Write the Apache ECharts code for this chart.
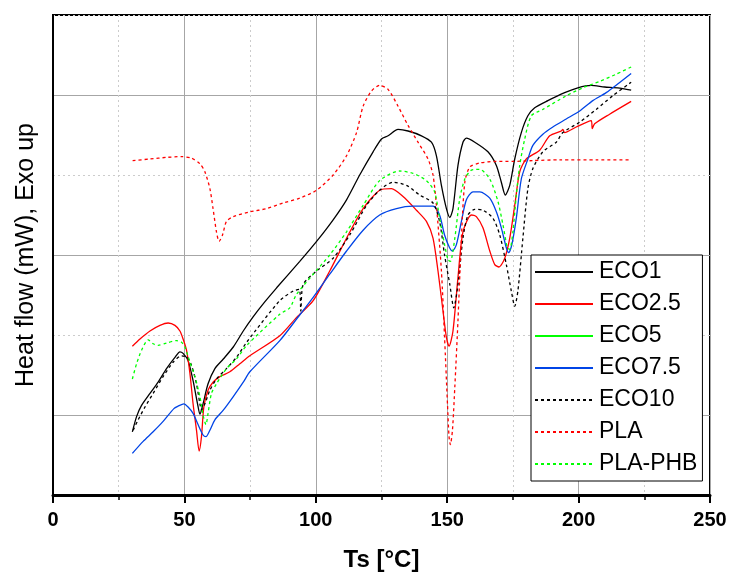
<!DOCTYPE html>
<html>
<head>
<meta charset="utf-8">
<script src="https://cdn.jsdelivr.net/npm/echarts@6/dist/echarts.min.js"></script>
<style>
html,body{margin:0;padding:0;background:#fff;}
#chart{width:730px;height:577px;}
</style>
</head>
<body>
<div id="chart"></div>
<script>
// ---- data (x: Ts in °C, y: heat flow, arbitrary units, exo up) ----
const seriesNames = ['ECO1', 'ECO2.5', 'ECO5', 'ECO7.5', 'ECO10', 'PLA', 'PLA-PHB'];
const xTicks = [0, 50, 100, 150, 200, 250];

const eco1 = [[30.2,0.79],[31.8,0.98],[33.7,1.12],[36.9,1.27],[40.0,1.41],[43.2,1.58],[46.4,1.72],[48.3,1.79],[49.5,1.77],[51.4,1.68],[53.3,1.43],[55.0,1.14],[55.9,1.01],[57.1,1.14],[59.0,1.39],[61.6,1.58],[64.8,1.70],[68.6,1.85],[72.4,2.05],[76.0,2.22],[80.5,2.41],[85.1,2.59],[93.9,2.92],[100.3,3.17],[106.6,3.44],[111.7,3.69],[116.7,4.00],[121.8,4.29],[125.0,4.45],[127.5,4.49],[131.3,4.57],[135.1,4.55],[140.2,4.49],[144.0,4.41],[145.9,4.24],[147.8,3.87],[149.7,3.58],[151.0,3.47],[152.2,3.58],[154.1,4.12],[156.0,4.41],[157.3,4.46],[160.5,4.41],[165.5,4.29],[168.7,4.12],[170.6,3.91],[172.1,3.75],[173.8,3.87],[175.7,4.20],[178.2,4.53],[180.7,4.74],[183.3,4.84],[188.3,4.93],[194.7,5.03],[199.7,5.09],[204.8,5.12],[209.9,5.10],[214.9,5.09],[220.0,5.06]];

const eco25 = [[30.2,1.86],[33.1,1.95],[36.9,2.05],[40.7,2.12],[43.8,2.15],[46.4,2.12],[48.3,2.05],[49.5,1.95],[50.8,1.81],[52.1,1.52],[53.3,1.14],[54.6,0.81],[55.6,0.55],[56.5,0.73],[57.4,1.10],[59.0,1.31],[60.9,1.41],[63.5,1.48],[67.3,1.54],[71.1,1.64],[74.9,1.74],[86.3,1.99],[92.7,2.22],[99.0,2.43],[105.3,2.80],[111.7,3.21],[118.0,3.58],[124.3,3.81],[128.8,3.83],[133.2,3.73],[138.3,3.56],[142.1,3.42],[144.6,3.21],[146.5,2.80],[148.4,2.30],[149.7,1.97],[150.7,1.86],[152.2,2.05],[154.1,2.72],[156.0,3.29],[159.2,3.50],[161.1,3.48],[163.6,3.34],[166.2,3.05],[168.1,2.88],[169.7,2.85],[171.9,2.96],[173.8,3.21],[175.7,3.62],[177.6,4.04],[180.1,4.20],[185.2,4.31],[189.0,4.49],[193.4,4.55],[194.0,4.57],[194.7,4.53],[199.1,4.60],[204.8,4.68],[205.2,4.58],[206.1,4.64],[211.8,4.76],[220.0,4.92]];

const eco5 = [];

const eco75 = [[30.2,0.52],[34.3,0.67],[38.1,0.79],[41.9,0.92],[46.0,1.08],[47.6,1.11],[49.8,1.14],[51.4,1.10],[53.3,1.02],[55.2,0.88],[57.1,0.75],[58.2,0.73],[59.7,0.81],[61.6,0.94],[64.8,1.06],[68.6,1.23],[72.4,1.41],[74.9,1.54],[86.3,1.93],[92.7,2.20],[99.0,2.47],[105.3,2.76],[111.7,3.05],[118.0,3.31],[124.3,3.50],[130.7,3.58],[137.0,3.61],[144.6,3.61],[147.1,3.50],[149.0,3.25],[150.9,3.09],[152.0,3.05],[153.5,3.13],[155.4,3.42],[157.3,3.69],[159.8,3.79],[162.4,3.79],[166.2,3.71],[168.7,3.54],[170.6,3.34],[172.5,3.09],[173.4,3.03],[174.6,3.13],[176.3,3.46],[178.2,3.95],[180.7,4.20],[182.6,4.37],[186.4,4.51],[190.2,4.60],[195.3,4.70],[200.4,4.80],[205.4,4.93],[210.5,5.03],[220.0,5.27]];

const eco10 = [[30.5,0.81],[32.4,0.94],[35.0,1.10],[38.1,1.27],[41.9,1.48],[45.7,1.66],[48.9,1.74],[51.1,1.72],[52.7,1.62],[54.6,1.39],[55.9,1.14],[56.5,1.06],[57.8,1.14],[59.7,1.31],[62.2,1.45],[66.0,1.58],[69.8,1.72],[73.7,1.91],[86.3,2.43],[91.4,2.55],[93.7,2.57],[94.3,2.30],[95.2,2.63],[100.3,2.80],[106.6,2.96],[112.9,3.25],[119.3,3.62],[124.3,3.81],[129.4,3.91],[134.5,3.87],[139.5,3.75],[144.6,3.65],[147.1,3.42],[149.0,3.00],[151.0,2.63],[152.5,2.34],[154.1,2.63],[156.0,3.21],[157.9,3.50],[160.5,3.57],[163.6,3.56],[167.4,3.46],[170.0,3.25],[172.5,2.88],[174.4,2.55],[175.7,2.36],[176.9,2.55],[178.8,3.21],[180.7,3.83],[182.6,4.08],[186.4,4.29],[191.5,4.41],[194.0,4.53],[200.4,4.66],[206.7,4.82],[213.0,4.99],[220.0,5.16]];

const pla = [[30.3,4.18],[36.9,4.20],[43.2,4.22],[48.9,4.23],[52.7,4.21],[55.9,4.14],[57.8,4.04],[59.7,3.83],[60.9,3.58],[62.2,3.29],[63.2,3.17],[64.5,3.25],[66.0,3.42],[68.6,3.48],[74.9,3.54],[81.3,3.58],[87.6,3.65],[93.9,3.71],[100.3,3.81],[106.6,4.00],[111.7,4.24],[115.5,4.53],[118.0,4.86],[121.2,5.05],[124.3,5.12],[127.5,5.07],[131.3,4.86],[135.1,4.62],[138.9,4.41],[142.7,4.20],[144.6,4.00],[145.9,3.62],[147.8,2.80],[149.0,1.97],[150.1,1.14],[150.7,0.73],[151.2,0.63],[152.0,0.81],[152.9,1.35],[154.1,2.18],[155.4,3.21],[156.7,3.91],[158.6,4.10],[162.4,4.15],[168.7,4.17],[175.0,4.17],[182.6,4.18],[192.8,4.19],[207.3,4.19],[220.0,4.19]];

const plaPhb = [[30.2,1.45],[31.8,1.64],[33.7,1.81],[36.2,1.94],[38.1,1.89],[40.0,1.87],[43.2,1.90],[47.0,1.93],[48.9,1.91],[50.2,1.85],[52.1,1.66],[54.0,1.48],[55.9,1.23],[57.1,1.00],[58.2,0.88],[59.0,1.02],[60.3,1.27],[62.2,1.39],[66.0,1.58],[69.8,1.70],[73.7,1.87],[86.3,2.26],[90.1,2.34],[92.7,2.51],[99.0,2.76],[105.3,3.00],[111.7,3.29],[118.0,3.62],[124.3,3.93],[131.9,4.05],[137.0,4.02],[142.1,3.93],[145.2,3.79],[147.1,3.46],[149.0,3.13],[150.3,2.94],[151.2,2.92],[152.9,3.21],[154.8,3.71],[156.7,3.95],[159.2,4.06],[162.4,4.07],[166.2,3.95],[169.3,3.67],[171.2,3.38],[172.9,3.09],[173.8,3.07],[175.0,3.29],[176.3,3.75],[177.6,4.12],[179.5,4.45],[182.0,4.74],[186.4,4.82],[195.3,4.99],[201.6,5.09],[208.0,5.17],[214.3,5.26],[220.0,5.35]];

const seriesData = [eco1, eco25, eco5, eco75, eco10, pla, plaPhb];
const seriesColors = ['#000000', '#ff0000', '#00ff00', '#0044e6', '#000000', '#ff0000', '#00ff00'];
const seriesDashed = [false, false, false, false, true, true, true];

const FONT = 'Liberation Sans, Arial, sans-serif';

const chart = echarts.init(document.getElementById('chart'), null, {renderer: 'canvas'});

const series = seriesNames.map((name, i) => ({
  name: name,
  type: 'line',
  data: seriesData[i],
  symbol: 'none',
  showSymbol: false,
  smooth: 0.25,
  color: seriesColors[i],
  lineStyle: {
    color: seriesColors[i],
    width: 1.3,
    type: seriesDashed[i] ? [3, 3] : 'solid'
  },
  xAxisIndex: 0,
  yAxisIndex: 0,
  z: 3
}));

chart.setOption({
  animation: false,
  backgroundColor: '#fff',
  grid: {
    left: 53, top: 15, width: 657, height: 484,
    show: true, borderColor: '#000', borderWidth: 2, backgroundColor: 'transparent'
  },
  xAxis: [{
    type: 'value',
    min: xTicks[0], max: xTicks[xTicks.length - 1], interval: 50,
    name: 'Ts [°C]',
    nameLocation: 'middle',
    nameGap: 53,
    nameTextStyle: {fontFamily: FONT, fontSize: 24, fontWeight: 'bold', color: '#000'},
    axisLine: {show: true, onZero: false, lineStyle: {color: '#000', width: 3}},
    axisTick: {show: true, inside: false, length: 8, lineStyle: {color: '#000', width: 2}},
    minorTick: {show: true, splitNumber: 2, length: 5, lineStyle: {color: '#000', width: 1.5}},
    axisLabel: {fontFamily: FONT, fontSize: 20, fontWeight: 'bold', color: '#000', margin: 15},
    splitLine: {show: true, lineStyle: {color: '#a6a6a6', width: 1, type: 'solid'}},
    minorSplitLine: {show: true, lineStyle: {color: '#cccccc', width: 1, type: [2, 3]}}
  }],
  yAxis: [{
    type: 'value',
    min: 0, max: 6, interval: 1,
    name: 'Heat flow (mW), Exo up',
    nameLocation: 'middle',
    nameGap: 14,
    nameTextStyle: {fontFamily: FONT, fontSize: 25, color: '#000'},
    axisLine: {show: true, onZero: false, lineStyle: {color: '#000', width: 2}},
    axisTick: {show: false},
    axisLabel: {show: false},
    splitLine: {show: true, lineStyle: {color: ['rgba(0,0,0,0)', '#a6a6a6'], width: 1, type: 'solid'}}
  }, {
    type: 'value',
    position: 'left',
    min: 0, max: 6, interval: 1,
    axisLine: {show: false},
    axisTick: {show: false},
    axisLabel: {show: false},
    splitLine: {show: true, lineStyle: {color: ['#cccccc', 'rgba(0,0,0,0)'], width: 1, type: [2, 3]}}
  }],
  legend: {
    show: true,
    orient: 'vertical',
    left: 531, top: 255,
    backgroundColor: '#fff',
    borderColor: '#000',
    borderWidth: 1,
    borderRadius: 0,
    padding: [5, 5, 5, 3],
    itemWidth: 58,
    itemHeight: 14,
    itemGap: 8,
    itemStyle: {color: 'rgba(0,0,0,0)', borderColor: 'rgba(0,0,0,0)', borderWidth: 0, opacity: 0},
    textStyle: {fontFamily: FONT, fontSize: 23, color: '#000', lineHeight: 24, padding: [0, 0, 0, 1]},
    data: seriesNames
  },
  series: series
});
</script>
</body>
</html>
